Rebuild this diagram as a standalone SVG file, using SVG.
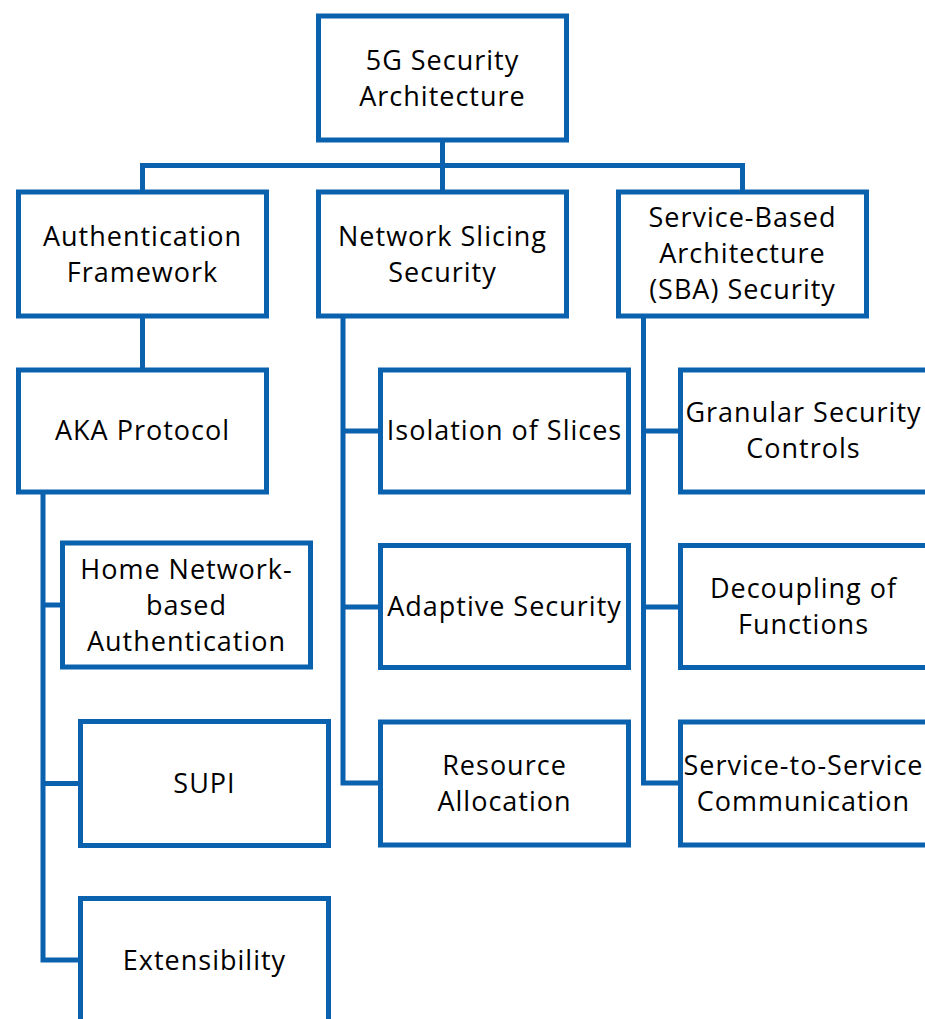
<svg xmlns="http://www.w3.org/2000/svg" width="925" height="1019" viewBox="0 0 925 1019">
  <style>
    .box { fill: #ffffff; stroke: #0A62AF; stroke-width: 5; }
    .link { fill: none; stroke: #0A62AF; stroke-width: 5; stroke-linejoin: miter; }
    text { font-family: "Open Sans", "Liberation Sans", sans-serif; font-size: 27px; fill: #000000; text-anchor: middle; letter-spacing: 1px; }
  </style>
  <rect width="925" height="1019" fill="#ffffff"/>

  <!-- connectors -->
  <g id="connectors">
    <path class="link" d="M442.5 140 V192"/>
    <path class="link" d="M142.5 192 V165.5 H742.5 V192"/>
    <path class="link" d="M142.5 316 V370"/>
    <path class="link" d="M43 492 V960 H80.5"/>
    <path class="link" d="M43 605 H62.5"/>
    <path class="link" d="M43 783.5 H80.5"/>
    <path class="link" d="M343 316 V783 H380.5"/>
    <path class="link" d="M343 431 H380.5"/>
    <path class="link" d="M343 607 H380.5"/>
    <path class="link" d="M643.5 316 V783 H680.5"/>
    <path class="link" d="M643.5 431 H680.5"/>
    <path class="link" d="M643.5 607 H680.5"/>
  </g>

  <!-- top level -->
  <g id="root">
    <rect class="box" x="318.5" y="16" width="248" height="124"/>
    <text x="442.5" y="70">5G Security</text>
    <text x="442.5" y="106">Architecture</text>
  </g>

  <!-- second level -->
  <g id="auth-framework">
    <rect class="box" x="18.5" y="192" width="248" height="124"/>
    <text x="142.5" y="246">Authentication</text>
    <text x="142.5" y="282">Framework</text>
  </g>
  <g id="slicing-security">
    <rect class="box" x="318.5" y="192" width="248" height="124"/>
    <text x="442.5" y="246">Network Slicing</text>
    <text x="442.5" y="282">Security</text>
  </g>
  <g id="sba-security">
    <rect class="box" x="618.5" y="192" width="248" height="124"/>
    <text x="742.5" y="227">Service-Based</text>
    <text x="742.5" y="263">Architecture</text>
    <text x="742.5" y="299">(SBA) Security</text>
  </g>

  <!-- authentication branch -->
  <g id="aka-protocol">
    <rect class="box" x="18.5" y="370" width="248" height="122"/>
    <text x="142.5" y="440">AKA Protocol</text>
  </g>
  <g id="home-network-auth">
    <rect class="box" x="62.5" y="543" width="248" height="124"/>
    <text x="186.5" y="579">Home Network-</text>
    <text x="186.5" y="615">based</text>
    <text x="186.5" y="651">Authentication</text>
  </g>
  <g id="supi">
    <rect class="box" x="80.5" y="721.5" width="248" height="124"/>
    <text x="204.5" y="793">SUPI</text>
  </g>
  <g id="extensibility">
    <rect class="box" x="80.5" y="898.5" width="248" height="130"/>
    <text x="204.5" y="970">Extensibility</text>
  </g>

  <!-- slicing branch -->
  <g id="slice-isolation">
    <rect class="box" x="380.5" y="370" width="248" height="122"/>
    <text x="504.5" y="440">Isolation of Slices</text>
  </g>
  <g id="adaptive-security">
    <rect class="box" x="380.5" y="545.5" width="248" height="122"/>
    <text x="504.5" y="616">Adaptive Security</text>
  </g>
  <g id="resource-allocation">
    <rect class="box" x="380.5" y="722" width="248" height="123"/>
    <text x="504.5" y="775">Resource</text>
    <text x="504.5" y="811">Allocation</text>
  </g>

  <!-- SBA branch -->
  <g id="granular-controls">
    <rect class="box" x="680.5" y="370" width="260" height="122"/>
    <text x="803.5" y="422">Granular Security</text>
    <text x="803.5" y="458">Controls</text>
  </g>
  <g id="decoupling">
    <rect class="box" x="680.5" y="545.5" width="260" height="122"/>
    <text x="803.5" y="598">Decoupling of</text>
    <text x="803.5" y="634">Functions</text>
  </g>
  <g id="service-to-service">
    <rect class="box" x="680.5" y="722" width="260" height="123"/>
    <text x="803.5" y="775">Service-to-Service</text>
    <text x="803.5" y="811">Communication</text>
  </g>
</svg>
